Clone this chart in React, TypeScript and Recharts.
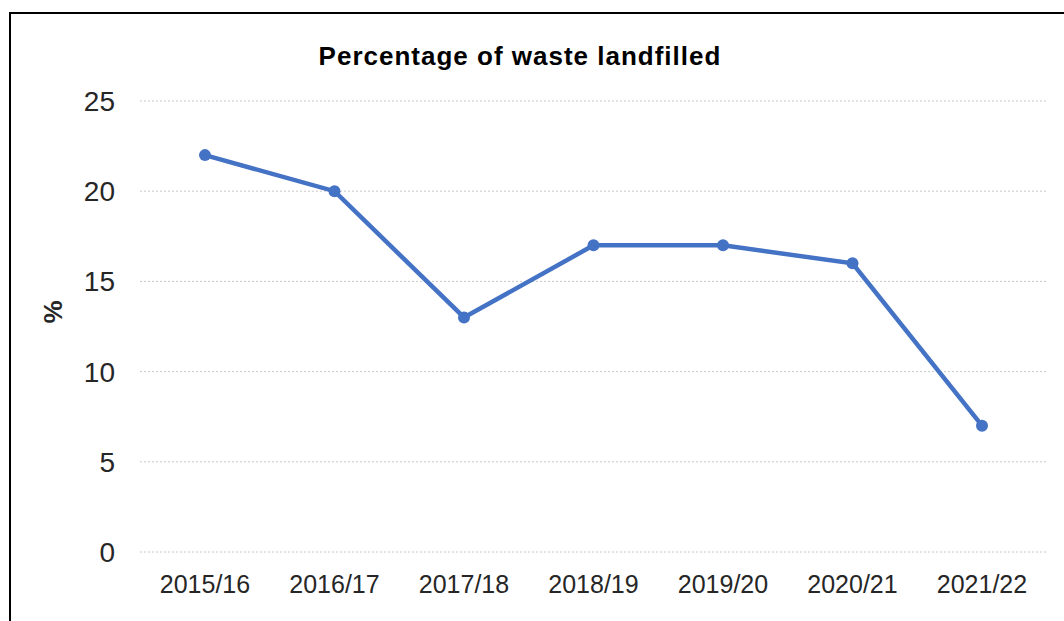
import { CartesianGrid, Line, LineChart, XAxis, YAxis } from "recharts";

const YEARS = ["2015/16", "2016/17", "2017/18", "2018/19", "2019/20", "2020/21", "2021/22"];
const LANDFILLED = [22, 20, 13, 17, 17, 16, 7];
const Y_TICKS = [0, 5, 10, 15, 20, 25];

const data = YEARS.map((year, i) => ({ year, value: LANDFILLED[i] }));

const FONT = "'Liberation Sans', Arial, sans-serif";
const BLUE = "#4472c4";

export default function App() {
  return (
    <div
      style={{
        position: "fixed",
        left: 0,
        top: 0,
        width: 1064,
        height: 621,
        background: "#fff",
        overflow: "hidden",
        fontFamily: FONT
      }}
    >
      <div
        style={{
          position: "absolute",
          left: 9,
          top: 12,
          width: 1100,
          height: 700,
          borderLeft: "2px solid #000",
          borderTop: "2px solid #000"
        }}
      />
      <div
        style={{
          position: "absolute",
          left: 0,
          top: 41,
          width: 1040,
          textAlign: "center",
          fontWeight: "bold",
          fontSize: 26,
          letterSpacing: 1,
          lineHeight: "30px",
          color: "#000"
        }}
      >
        Percentage of waste landfilled
      </div>
      <div
        style={{
          position: "absolute",
          left: 53,
          top: 312,
          transform: "translate(-50%, -50%) rotate(-90deg)",
          fontWeight: "bold",
          fontSize: 26,
          color: "#262626"
        }}
      >
        %
      </div>
      <div style={{ position: "absolute", left: 0, top: 0 }}>
        <LineChart
          width={1064}
          height={621}
          data={data}
          margin={{ top: 101, right: 17, bottom: 0, left: 0 }}
        >
          <CartesianGrid vertical={false} stroke="#c8c8c8" strokeDasharray="2 2" />
          <XAxis
            dataKey="year"
            axisLine={false}
            tickLine={false}
            tickSize={0}
            tickMargin={23}
            height={69}
            interval={0}
            padding={{ left: 65, right: 65 }}
            tick={{ fill: "#262626", fontSize: 25, fontFamily: FONT }}
          />
          <YAxis
            domain={[0, 25]}
            ticks={Y_TICKS}
            axisLine={false}
            tickLine={false}
            tickSize={0}
            tickMargin={25}
            width={140}
            tick={{ fill: "#262626", fontSize: 28, fontFamily: FONT }}
          />
          <Line
            type="linear"
            dataKey="value"
            stroke={BLUE}
            strokeWidth={4.5}
            dot={{ r: 6, fill: BLUE, stroke: BLUE, strokeWidth: 0 }}
            isAnimationActive={false}
          />
        </LineChart>
      </div>
    </div>
  );
}
